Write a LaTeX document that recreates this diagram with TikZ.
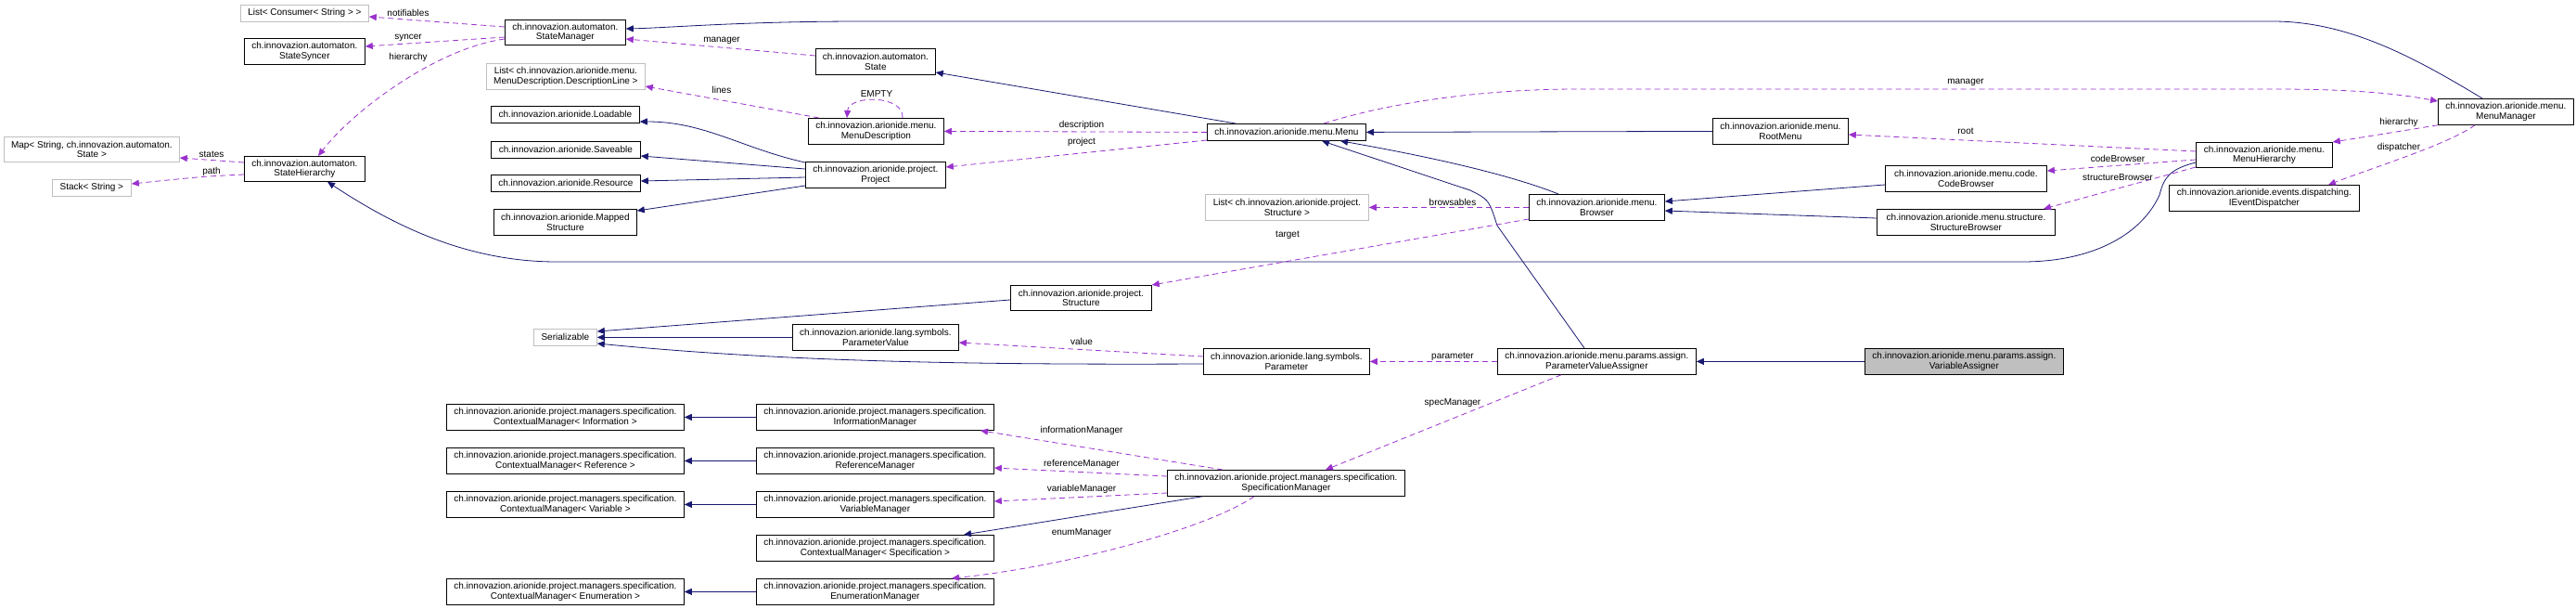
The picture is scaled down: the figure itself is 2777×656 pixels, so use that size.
\documentclass[tikz,border=0pt]{standalone}
\usepackage{fontspec}
\setmainfont{Liberation Sans}
\usetikzlibrary{arrows.meta}
\definecolor{inhc}{HTML}{191970}
\definecolor{usec}{HTML}{9A32CD}
\definecolor{extc}{HTML}{BFBFBF}
\begin{document}
\begin{tikzpicture}[x=1pt,y=-1pt,
  font=\fontsize{10}{10.5}\selectfont,
  box/.style={draw=black, line width=0.8pt, fill=white, inner sep=0pt, align=center, anchor=north west},
  extbox/.style={box, draw=extc},
  mainbox/.style={box, fill=extc},
  inhe/.style={draw=inhc, line width=0.8pt, -{Triangle[length=8pt,width=7pt]}},
  usee/.style={draw=usec, line width=0.8pt, dash pattern=on 6pt off 4pt, -{Triangle[length=8pt,width=7pt]}},
  lbl/.style={inner sep=0pt, text=black}]
\useasboundingbox (0,0) rectangle (2777,656);

% ---- nodes ----
\node[extbox, minimum width=138pt, minimum height=18pt] (lcons) at (259,5) {List< Consumer< String > >};
\node[box, minimum width=130pt, minimum height=27pt] (sm) at (544,21) {ch.innovazion.automaton.\\StateManager};
\node[box, minimum width=130pt, minimum height=28pt] (ss) at (263,41) {ch.innovazion.automaton.\\StateSyncer};
\node[extbox, minimum width=171pt, minimum height=28pt] (lmd) at (524,68) {List< ch.innovazion.arionide.menu.\\MenuDescription.DescriptionLine >};
\node[box, minimum width=160pt, minimum height=18pt] (load) at (529,114) {ch.innovazion.arionide.Loadable};
\node[box, minimum width=161pt, minimum height=18pt] (save) at (529,152) {ch.innovazion.arionide.Saveable};
\node[box, minimum width=161pt, minimum height=18pt] (res) at (529,188) {ch.innovazion.arionide.Resource};
\node[box, minimum width=154pt, minimum height=28pt] (mapped) at (532,225) {ch.innovazion.arionide.Mapped\\Structure};
\node[extbox, minimum width=189pt, minimum height=27pt] (mapst) at (4,147) {Map< String, ch.innovazion.automaton.\\State >};
\node[box, minimum width=130pt, minimum height=27pt] (sh) at (263,168) {ch.innovazion.automaton.\\StateHierarchy};
\node[extbox, minimum width=85pt, minimum height=18pt] (stack) at (56,193) {Stack< String >};
\node[box, minimum width=129pt, minimum height=28pt] (state) at (879,52) {ch.innovazion.automaton.\\State};
\node[box, minimum width=146pt, minimum height=28pt] (md) at (871,127) {ch.innovazion.arionide.menu.\\MenuDescription};
\node[box, minimum width=151pt, minimum height=28pt] (proj) at (868,174) {ch.innovazion.arionide.project.\\Project};
\node[box, minimum width=171pt, minimum height=18pt] (menu) at (1301,133) {ch.innovazion.arionide.menu.Menu};
\node[extbox, minimum width=176pt, minimum height=28pt] (lstruct) at (1299,209) {List< ch.innovazion.arionide.project.\\Structure >};
\node[box, minimum width=152pt, minimum height=27pt] (struct) at (1089,307) {ch.innovazion.arionide.project.\\Structure};
\node[box, minimum width=179pt, minimum height=28pt] (pv) at (854,349) {ch.innovazion.arionide.lang.symbols.\\ParameterValue};
\node[box, minimum width=179pt, minimum height=28pt] (param) at (1297,375) {ch.innovazion.arionide.lang.symbols.\\Parameter};
\node[extbox, minimum width=68pt, minimum height=18pt] (serial) at (575,354) {Serializable};
\node[box, minimum width=256pt, minimum height=28pt] (cmi) at (481,435) {ch.innovazion.arionide.project.managers.specification.\\ContextualManager< Information >};
\node[box, minimum width=256pt, minimum height=28pt] (cmr) at (481,482) {ch.innovazion.arionide.project.managers.specification.\\ContextualManager< Reference >};
\node[box, minimum width=256pt, minimum height=28pt] (cmv) at (481,529) {ch.innovazion.arionide.project.managers.specification.\\ContextualManager< Variable >};
\node[box, minimum width=256pt, minimum height=28pt] (cme) at (481,623) {ch.innovazion.arionide.project.managers.specification.\\ContextualManager< Enumeration >};
\node[box, minimum width=256pt, minimum height=28pt] (im) at (815,435) {ch.innovazion.arionide.project.managers.specification.\\InformationManager};
\node[box, minimum width=256pt, minimum height=28pt] (rm) at (815,482) {ch.innovazion.arionide.project.managers.specification.\\ReferenceManager};
\node[box, minimum width=256pt, minimum height=28pt] (vm) at (815,529) {ch.innovazion.arionide.project.managers.specification.\\VariableManager};
\node[box, minimum width=256pt, minimum height=28pt] (cms) at (815,576) {ch.innovazion.arionide.project.managers.specification.\\ContextualManager< Specification >};
\node[box, minimum width=256pt, minimum height=28pt] (em) at (815,623) {ch.innovazion.arionide.project.managers.specification.\\EnumerationManager};
\node[box, minimum width=256pt, minimum height=28pt] (spm) at (1258,506) {ch.innovazion.arionide.project.managers.specification.\\SpecificationManager};
\node[box, minimum width=214pt, minimum height=28pt] (pva) at (1614,375) {ch.innovazion.arionide.menu.params.assign.\\ParameterValueAssigner};
\node[mainbox, minimum width=214pt, minimum height=28pt] (va) at (2010,375) {ch.innovazion.arionide.menu.params.assign.\\VariableAssigner};
\node[box, minimum width=146pt, minimum height=28pt] (root) at (1846,127) {ch.innovazion.arionide.menu.\\RootMenu};
\node[box, minimum width=146pt, minimum height=28pt] (browser) at (1648,209) {ch.innovazion.arionide.menu.\\Browser};
\node[box, minimum width=174pt, minimum height=28pt] (cb) at (2032,178) {ch.innovazion.arionide.menu.code.\\CodeBrowser};
\node[box, minimum width=192pt, minimum height=28pt] (strb) at (2023,225) {ch.innovazion.arionide.menu.structure.\\StructureBrowser};
\node[box, minimum width=146pt, minimum height=28pt] (mm) at (2628,106) {ch.innovazion.arionide.menu.\\MenuManager};
\node[box, minimum width=147pt, minimum height=27pt] (mh) at (2367,153) {ch.innovazion.arionide.menu.\\MenuHierarchy};
\node[box, minimum width=205pt, minimum height=28pt] (ied) at (2338,199) {ch.innovazion.arionide.events.dispatching.\\IEventDispatcher};

% ---- inheritance (solid) ----
\draw[inhe] (mm.north -| 2676,0) .. controls (2600,60) and (2530,23) .. (2450,23) -- (930,23) .. controls (800,23) and (720,30) .. (sm.east |- 0,31);
\draw[inhe] (1332,0 |- menu.north) -- (state.east |- 0,78);
\draw[inhe] (proj.west |- 0,175) .. controls (800,160) and (760,131) .. (load.east |- 0,131);
\draw[inhe] (proj.west |- 0,182) -- (save.east |- 0,168);
\draw[inhe] (proj.west |- 0,191) -- (res.east |- 0,195);
\draw[inhe] (proj.west |- 0,200) -- (mapped.east |- 0,227);
\draw[inhe] (root.west) -- (menu.east);
\draw[inhe] (1680,0 |- browser.north) .. controls (1620,185) and (1520,165) .. (1445,0 |- menu.south);
\draw[inhe] (1708,0 |- pva.north) -- (1614,243) .. controls (1605,215) .. (1585,205) -- (1425,0 |- menu.south);
\draw[inhe] (cb.west |- 0,199) -- (browser.east |- 0,217);
\draw[inhe] (strb.west |- 0,235) -- (browser.east |- 0,227);
\draw[inhe] (mh.west |- 0,175) .. controls (2340,182) and (2333,190) .. (2328,210) .. controls (2310,250) and (2260,282) .. (2180,282) -- (600,282) .. controls (500,282) and (420,240) .. (353,0 |- sh.south);
\draw[inhe] (struct.west |- 0,323) -- (serial.east |- 0,357);
\draw[inhe] (pv.west) -- (serial.east);
\draw[inhe] (param.west |- 0,392) .. controls (1050,393) and (850,390) .. (serial.east |- 0,370);
\draw[inhe] (va.west) -- (pva.east);
\draw[inhe] (1296,0 |- spm.south) -- (1039,0 |- cms.north);
\draw[inhe] (im.west) -- (cmi.east);
\draw[inhe] (rm.west) -- (cmr.east);
\draw[inhe] (vm.west) -- (cmv.east);
\draw[inhe] (em.west) -- (cme.east);

% ---- usage (dashed) ----
\draw[usee] (sm.west |- 0,29) -- (lcons.east |- 0,18);
\draw[usee] (sm.west |- 0,40) -- (ss.east |- 0,50);
\draw[usee] (sm.west |- 0,42) .. controls (470,52) and (380,120) .. (343,0 |- sh.north);
\draw[usee] (sh.west |- 0,175) -- (mapst.east |- 0,170);
\draw[usee] (sh.west |- 0,188) .. controls (220,190) .. (stack.east |- 0,198);
\draw[usee] (state.west |- 0,60) -- (sm.east |- 0,42);
\draw[usee] (883,0 |- md.north) -- (lmd.east |- 0,93);
\draw[usee] (973,0 |- md.north) .. controls (975,102) and (915,102) .. (913,0 |- md.north);
\draw[usee] (menu.west) -- (md.east);
\draw[usee] (menu.west |- 0,151) -- (proj.east |- 0,180);
\draw[usee] (1427,0 |- menu.north) .. controls (1500,110) and (1600,96) .. (1700,96) -- (2450,96) .. controls (2530,96) and (2580,100) .. (mm.west |- 0,109);
\draw[usee] (browser.west) -- (lstruct.east);
\draw[usee] (browser.west |- 0,236) -- (struct.north east);
\draw[usee] (mh.west |- 0,163) -- (root.east |- 0,145);
\draw[usee] (mh.west |- 0,172) -- (cb.east |- 0,184);
\draw[usee] (mh.west |- 0,180) -- (2203,0 |- strb.north);
\draw[usee] (mm.south west) -- (mh.north east);
\draw[usee] (2668,0 |- mm.south) .. controls (2640,155) and (2560,180) .. (2510,0 |- ied.north);
\draw[usee] (param.west |- 0,384) -- (pv.east |- 0,369);
\draw[usee] (pva.west) -- (param.east);
\draw[usee] (1683,0 |- pva.south) -- (1429,0 |- spm.north);
\draw[usee] (1318,0 |- spm.north) -- (1057,0 |- im.south);
\draw[usee] (spm.west |- 0,513) -- (rm.east |- 0,504);
\draw[usee] (spm.west |- 0,531) -- (vm.east |- 0,540);
\draw[usee] (1352,0 |- spm.south) .. controls (1300,570) and (1150,610) .. (1026,0 |- em.north);

% ---- labels ----
\node[lbl] (l1) at (440,14) {notifiables};
\node[lbl] (l2) at (440,41) {syncer};
\node[lbl] (l3) at (440,62) {hierarchy};
\node[lbl] (l4) at (228,166) {states};
\node[lbl] (l5) at (228,185) {path};
\node[lbl] (l6) at (778,44) {manager};
\node[lbl] (l7) at (778,97) {lines};
\node[lbl] (l8) at (945,101) {EMPTY};
\node[lbl] (l9) at (1166,135) {description};
\node[lbl] (l10) at (1166,153) {project};
\node[lbl] (l11) at (2119,89) {manager};
\node[lbl] (l12) at (1566,218) {browsables};
\node[lbl] (l13) at (1388,253) {target};
\node[lbl] (l14) at (2119,141) {root};
\node[lbl] (l15) at (2283,171) {codeBrowser};
\node[lbl] (l16) at (2283,191) {structureBrowser};
\node[lbl] (l17) at (2586,132) {hierarchy};
\node[lbl] (l18) at (2586,159) {dispatcher};
\node[lbl] (l19) at (1166,368) {value};
\node[lbl] (l20) at (1566,384) {parameter};
\node[lbl] (l21) at (1566,434) {specManager};
\node[lbl] (l22) at (1166,464) {informationManager};
\node[lbl] (l23) at (1166,500) {referenceManager};
\node[lbl] (l24) at (1166,527) {variableManager};
\node[lbl] (l25) at (1166,574) {enumManager};
\end{tikzpicture}
\end{document}
